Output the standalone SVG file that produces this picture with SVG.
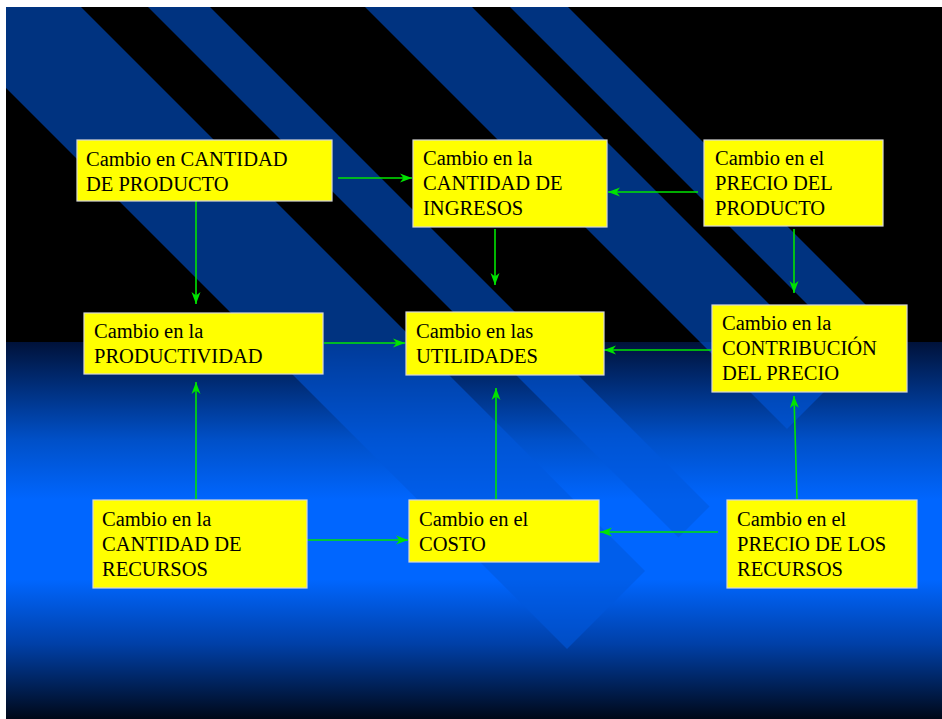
<svg xmlns="http://www.w3.org/2000/svg" width="942" height="719" viewBox="0 0 942 719">
  <defs>
    <style>
      .box { fill: #ffff00; stroke: #d8d8d8; stroke-width: 1.2; }
      .lbl { font-family: 'Liberation Serif', 'Times New Roman', 'DejaVu Serif', serif; font-size: 20.5px; fill: #000000; }
      .conn { stroke: #00e400; stroke-width: 1.6; fill: none; marker-end: url(#arr); }
      .stripe { fill: #0058dc; fill-opacity: 0.58; }
    </style>
    <marker id="arr" markerUnits="userSpaceOnUse" markerWidth="14" markerHeight="10" refX="12" refY="5" orient="auto">
      <path d="M0,0.5 L12,5 L0,9.5 L3.5,5 Z" fill="#00e400"/>
    </marker>
    <linearGradient id="lower" gradientUnits="userSpaceOnUse" x1="0" y1="342" x2="0" y2="719">
      <stop offset="0" stop-color="#00123a"/>
      <stop offset="0.26" stop-color="#0050c8"/>
      <stop offset="0.42" stop-color="#0066ff"/>
      <stop offset="0.63" stop-color="#0066ff"/>
      <stop offset="0.8" stop-color="#0040a8"/>
      <stop offset="1" stop-color="#000818"/>
    </linearGradient>
    <clipPath id="slide">
      <rect x="6" y="7" width="936" height="712"/>
    </clipPath>
  </defs>

  <rect x="0" y="0" width="942" height="719" fill="#ffffff"/>

  <g id="background" clip-path="url(#slide)">
    <rect x="6" y="7" width="936" height="335" fill="#000000"/>
    <rect x="6" y="342" width="936" height="377" fill="url(#lower)"/>
    <polygon class="stripe" points="-282,-200 -126,-200 645,571 567,649"/>
    <polygon class="stripe" points="-59,-200 3,-200 709.5,506.5 678.5,537.5"/>
    <polygon class="stripe" points="158,-200 265,-200 840.5,375.5 787,429"/>
    <polygon class="stripe" points="303,-200 361,-200 888.5,327.5 859.5,356.5"/>
  </g>

  <g id="connectors">
    <line class="conn" x1="338" y1="178" x2="412" y2="178"/>
    <line class="conn" x1="698" y1="192" x2="608" y2="192"/>
    <line class="conn" x1="196" y1="201" x2="196" y2="304"/>
    <line class="conn" x1="495" y1="229" x2="495" y2="285"/>
    <line class="conn" x1="794" y1="229" x2="794" y2="293"/>
    <line class="conn" x1="324" y1="343" x2="405" y2="343"/>
    <line class="conn" x1="711" y1="350" x2="604" y2="350"/>
    <line class="conn" x1="196" y1="499" x2="196" y2="382"/>
    <line class="conn" x1="496" y1="499" x2="496" y2="388"/>
    <line class="conn" x1="797" y1="499" x2="794" y2="396"/>
    <line class="conn" x1="307" y1="540" x2="408" y2="540"/>
    <line class="conn" x1="718" y1="532" x2="600" y2="532"/>
  </g>

  <g id="nodes" font-family="'Liberation Serif', 'Times New Roman', serif">
  <g id="n-cantidad-producto">
    <rect class="box" x="77" y="140" width="255" height="61"/>
    <text class="lbl" x="86" y="166">Cambio en CANTIDAD</text>
    <text class="lbl" x="86" y="191">DE PRODUCTO</text>
  </g>
  <g id="n-cantidad-ingresos">
    <rect class="box" x="413" y="140" width="194" height="87"/>
    <text class="lbl" x="423" y="165">Cambio en la</text>
    <text class="lbl" x="423" y="190">CANTIDAD DE</text>
    <text class="lbl" x="423" y="215">INGRESOS</text>
  </g>
  <g id="n-precio-producto">
    <rect class="box" x="704" y="140" width="179" height="86"/>
    <text class="lbl" x="715" y="165">Cambio en el</text>
    <text class="lbl" x="715" y="190">PRECIO DEL</text>
    <text class="lbl" x="715" y="215">PRODUCTO</text>
  </g>
  <g id="n-productividad">
    <rect class="box" x="84" y="313" width="239" height="61"/>
    <text class="lbl" x="94" y="338">Cambio en la</text>
    <text class="lbl" x="94" y="363">PRODUCTIVIDAD</text>
  </g>
  <g id="n-utilidades">
    <rect class="box" x="406" y="312" width="198" height="63"/>
    <text class="lbl" x="416" y="338">Cambio en las</text>
    <text class="lbl" x="416" y="363">UTILIDADES</text>
  </g>
  <g id="n-contribucion">
    <rect class="box" x="712" y="305" width="195" height="87"/>
    <text class="lbl" x="722" y="330">Cambio en la</text>
    <text class="lbl" x="722" y="355">CONTRIBUCIÓN</text>
    <text class="lbl" x="722" y="380">DEL PRECIO</text>
  </g>
  <g id="n-cantidad-recursos">
    <rect class="box" x="93" y="500" width="214" height="88"/>
    <text class="lbl" x="102" y="526">Cambio en la</text>
    <text class="lbl" x="102" y="551">CANTIDAD DE</text>
    <text class="lbl" x="102" y="576">RECURSOS</text>
  </g>
  <g id="n-costo">
    <rect class="box" x="409" y="500" width="190" height="62"/>
    <text class="lbl" x="419" y="526">Cambio en el</text>
    <text class="lbl" x="419" y="551">COSTO</text>
  </g>
  <g id="n-precio-recursos">
    <rect class="box" x="727" y="500" width="190" height="88"/>
    <text class="lbl" x="737" y="526">Cambio en el</text>
    <text class="lbl" x="737" y="551">PRECIO DE LOS</text>
    <text class="lbl" x="737" y="576">RECURSOS</text>
  </g>
  </g>
</svg>
